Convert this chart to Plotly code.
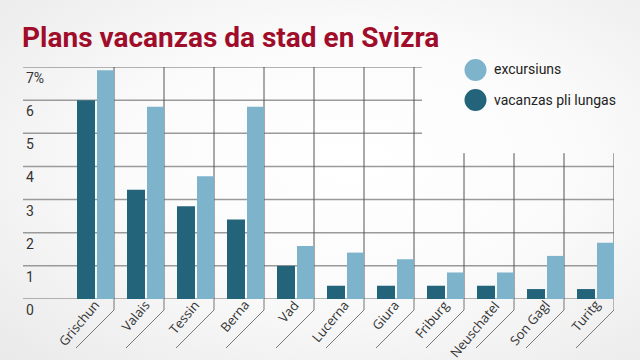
import plotly.graph_objects as go

categories = ["Grischun", "Valais", "Tessin", "Berna", "Vad", "Lucerna", "Giura",
              "Friburg", "Neuschatel", "Son Gagl", "Turitg"]
vacanzas_pli_lungas = [6.0, 3.3, 2.8, 2.4, 1.0, 0.4, 0.4, 0.4, 0.4, 0.3, 0.3]
excursiuns = [6.9, 5.8, 3.7, 5.8, 1.6, 1.4, 1.2, 0.8, 0.8, 1.3, 1.7]
y_ticks = [0, 1, 2, 3, 4, 5, 6, 7]
y_tick_labels = ["0", "1", "2", "3", "4", "5", "6", "7%"]

DARK = "#23647a"
LIGHT = "#7db3cb"
FONT = "Roboto"
W, H = 640, 360
L, R, T, B = 23, 26, 67, 61
PW, PH = W - L - R, H - T - B

def px(xp):
    return (xp - L) / PW

def py(yp):
    return (H - B - yp) / PH

x = list(range(len(categories)))

fig = go.Figure()
fig.add_trace(go.Bar(x=x, y=vacanzas_pli_lungas, name="vacanzas pli lungas",
                     marker=dict(color=DARK, line=dict(width=0)),
                     offset=-0.24, width=0.36, showlegend=False))
fig.add_trace(go.Bar(x=x, y=excursiuns, name="excursiuns",
                     marker=dict(color=LIGHT, line=dict(width=0)),
                     offset=0.16, width=0.34, showlegend=False))

shapes = []
n = len(categories)
# horizontal grid
for v in y_ticks:
    xend = 6.66 if v >= 5 else n - 0.5
    shapes.append(dict(type="line", xref="x", yref="y", x0=-1.32, x1=xend, y0=v, y1=v,
                       line=dict(color="#9a9a9a", width=1.5), layer="below"))
# vertical grid + diagonal ticks
for k in range(n):
    xb = k + 0.5
    ytop = 7 if k <= 6 else 4.4
    shapes.append(dict(type="line", xref="x", yref="y", x0=xb, x1=xb, y0=0, y1=ytop,
                       line=dict(color="#555555", width=1), layer="below"))
    shapes.append(dict(type="line", xref="x", yref="paper", x0=xb, x1=xb,
                       y0=py(299), y1=py(310),
                       line=dict(color="#777777", width=1), layer="below"))
    shapes.append(dict(type="line", xref="x", yref="paper", x0=xb, x1=xb - 0.76,
                       y0=py(310), y1=py(348),
                       line=dict(color="#777777", width=1), layer="below"))
# legend circles
for cy, col in [(70, LIGHT), (100, DARK)]:
    shapes.append(dict(type="circle", xref="paper", yref="paper",
                       x0=px(475.5 - 11), x1=px(475.5 + 11), y0=py(cy + 11), y1=py(cy - 11),
                       fillcolor=col, line=dict(width=0)))

annotations = []
for v, t in zip(y_ticks, y_tick_labels):
    annotations.append(dict(x=px(24), y=v, xref="paper", yref="y", text=t, showarrow=False,
                            xanchor="left", yanchor="top", yshift=-1,
                            font=dict(family=FONT, size=14, color="#333333")))
for k, c in enumerate(categories):
    annotations.append(dict(x=k + 0.5, y=0, xref="x", yref="y", text=c, showarrow=False,
                            textangle=-50, xanchor="right", yanchor="top",
                            xshift=-8, yshift=5,
                            font=dict(family="Open Sans", size=13, color="#333333")))
for cy, t in [(69, "excursiuns"), (100, "vacanzas pli lungas")]:
    annotations.append(dict(x=px(492), y=py(cy), xref="paper", yref="paper", text=t,
                            showarrow=False, xanchor="left", yanchor="middle",
                            font=dict(family=FONT, size=14, color="#222222")))

fig.update_layout(
    width=W, height=H,
    margin=dict(l=L, r=R, t=T, b=B),
    paper_bgcolor="rgba(0,0,0,0)", plot_bgcolor="rgba(0,0,0,0)",
    barmode="overlay",
    title=dict(text="<b>Plans vacanzas da stad en Svizra</b>", x=22 / W, xanchor="left",
               y=1 - 37 / H, yanchor="middle",
               font=dict(family=FONT, size=28, color="#a00d2b")),
    xaxis=dict(range=[-1.32, n - 0.5], showgrid=False, zeroline=False, showticklabels=False,
               fixedrange=True),
    yaxis=dict(range=[0, 7], showgrid=False, zeroline=False, showticklabels=False,
               fixedrange=True),
    shapes=shapes, annotations=annotations,
)
fig.write_html(
    "out.html", config={"displayModeBar": False},
    post_script=("document.body.style.margin='0';"
                 "document.body.style.minHeight='360px';"
                 "document.body.style.background="
                 "'radial-gradient(ellipse at 55% 45%, #ffffff 0%, #fbfbfb 45%, #e9e9e9 100%)';"))
